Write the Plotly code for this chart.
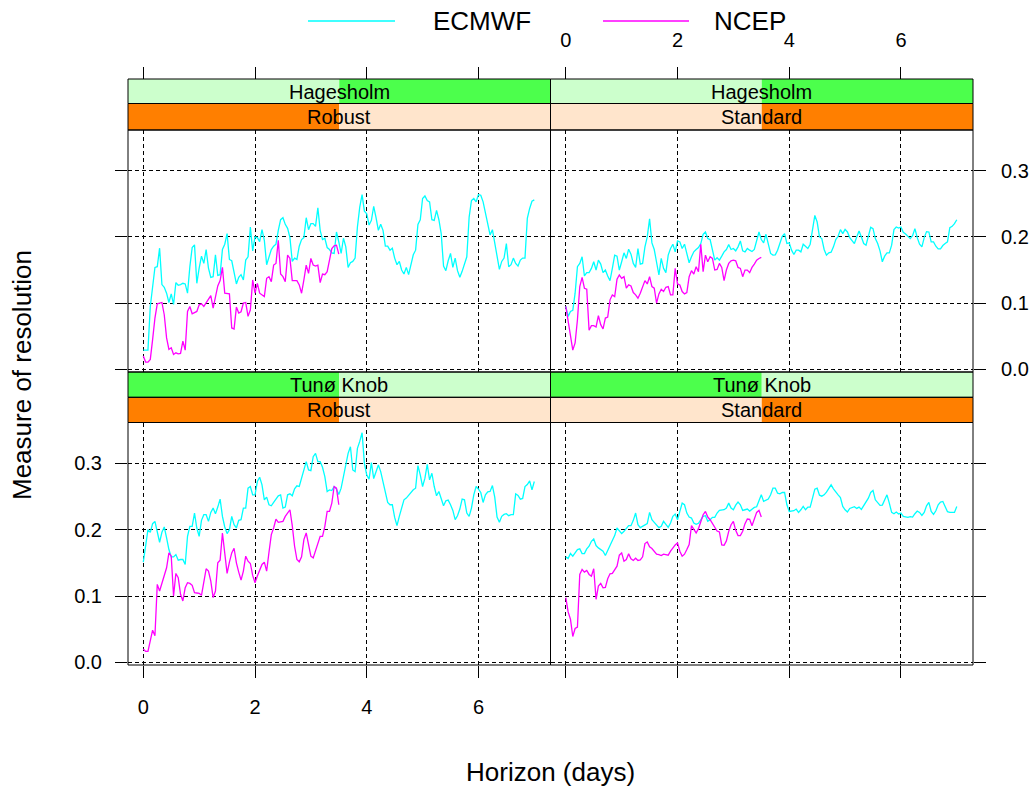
import plotly.graph_objects as go

# Lead time grid (hours) for the two forecast providers
lead_hours_ecmwf = list(range(0, 169))
lead_hours_ncep = list(range(0, 85))

# Measure of resolution, Hagesholm / Robust
hag_rob_ecmwf = [
    0.029, 0.029, 0.029, 0.095, 0.128, 0.154, 0.155, 0.183, 0.128, 0.124,
    0.115, 0.101, 0.114, 0.098, 0.131, 0.127, 0.128, 0.130, 0.129, 0.115,
    0.155, 0.184, 0.188, 0.130, 0.153, 0.171, 0.160, 0.181, 0.153, 0.139,
    0.140, 0.173, 0.142, 0.143, 0.181, 0.189, 0.205, 0.166, 0.164, 0.145,
    0.129, 0.139, 0.143, 0.135, 0.165, 0.170, 0.215, 0.179, 0.200, 0.199,
    0.193, 0.211, 0.195, 0.158, 0.170, 0.181, 0.186, 0.189, 0.210, 0.226,
    0.229, 0.219, 0.213, 0.199, 0.163, 0.168, 0.166, 0.186, 0.196, 0.199,
    0.229, 0.211, 0.220, 0.220, 0.216, 0.244, 0.210, 0.196, 0.198, 0.184,
    0.181, 0.176, 0.175, 0.2075, 0.1925, 0.175, 0.198, 0.185, 0.154, 0.161,
    0.163, 0.168, 0.215, 0.245, 0.264, 0.239, 0.235, 0.218, 0.225, 0.246,
    0.229, 0.210, 0.219, 0.210, 0.186, 0.186, 0.180, 0.183, 0.168, 0.158,
    0.163, 0.150, 0.144, 0.154, 0.143, 0.160, 0.173, 0.180, 0.219, 0.226,
    0.258, 0.262, 0.255, 0.253, 0.226, 0.225, 0.240, 0.226, 0.205, 0.156,
    0.149, 0.164, 0.175, 0.154, 0.168, 0.149, 0.139, 0.148, 0.158, 0.170,
    0.230, 0.255, 0.258, 0.253, 0.264, 0.263, 0.253, 0.236, 0.218, 0.203,
    0.211, 0.190, 0.168, 0.151, 0.163, 0.168, 0.190, 0.155, 0.158, 0.168,
    0.160, 0.156, 0.165, 0.168, 0.168, 0.228, 0.243, 0.254, 0.256,
]
hag_rob_ncep = [
    0.020, 0.011, 0.011, 0.015, 0.045, 0.0775, 0.099, 0.1005, 0.101, 0.0825,
    0.0475, 0.030, 0.0325, 0.0225, 0.025, 0.0235, 0.024, 0.0425, 0.029, 0.0875,
    0.095, 0.084, 0.086, 0.0875, 0.0975, 0.099, 0.095, 0.100, 0.105, 0.1115,
    0.0925, 0.1075, 0.126, 0.134, 0.154, 0.115, 0.115, 0.114, 0.0625, 0.061,
    0.094, 0.085, 0.087, 0.100, 0.101, 0.080, 0.090, 0.135, 0.115, 0.130,
    0.115, 0.1125, 0.110, 0.1375, 0.140, 0.1325, 0.1575, 0.160, 0.195, 0.144,
    0.140, 0.1325, 0.1725, 0.1675, 0.134, 0.134, 0.134, 0.1275, 0.115, 0.135,
    0.1575, 0.145, 0.1675, 0.1575, 0.156, 0.1575, 0.131, 0.144, 0.143, 0.1475,
    0.1625, 0.1825, 0.1865, 0.1875, 0.174,
]

# Hagesholm / Standard
hag_std_ecmwf = [
    0.095, 0.080, 0.0875, 0.089, 0.115, 0.155, 0.160, 0.170, 0.141, 0.146,
    0.146, 0.1525, 0.1625, 0.150, 0.165, 0.159, 0.146, 0.150, 0.141, 0.134,
    0.1525, 0.1725, 0.171, 0.150, 0.1625, 0.176, 0.1675, 0.1815, 0.174, 0.160,
    0.154, 0.1825, 0.159, 0.160, 0.185, 0.200, 0.2275, 0.191, 0.181, 0.160,
    0.1425, 0.1675, 0.1525, 0.146, 0.1725, 0.1825, 0.189, 0.1775, 0.194, 0.1925,
    0.1825, 0.189, 0.176, 0.161, 0.170, 0.1775, 0.181, 0.184, 0.190, 0.204,
    0.2075, 0.1975, 0.196, 0.1825, 0.165, 0.1685, 0.165, 0.171, 0.1775, 0.181,
    0.1885, 0.181, 0.1825, 0.179, 0.185, 0.194, 0.179, 0.1775, 0.1825, 0.180,
    0.178, 0.181, 0.195, 0.2075, 0.196, 0.191, 0.204, 0.190, 0.175, 0.1725,
    0.173, 0.180, 0.1925, 0.201, 0.205, 0.190, 0.191, 0.180, 0.1735, 0.180,
    0.180, 0.1775, 0.189, 0.186, 0.1825, 0.189, 0.210, 0.2325, 0.2225, 0.200,
    0.1975, 0.181, 0.1725, 0.176, 0.177, 0.185, 0.196, 0.201, 0.211, 0.205,
    0.2115, 0.2075, 0.199, 0.194, 0.190, 0.200, 0.209, 0.200, 0.190, 0.1875,
    0.200, 0.2145, 0.2125, 0.1975, 0.190, 0.179, 0.1625, 0.171, 0.176, 0.176,
    0.1875, 0.211, 0.215, 0.2135, 0.215, 0.207, 0.2045, 0.2005, 0.1975, 0.202,
    0.2125, 0.199, 0.189, 0.185, 0.199, 0.208, 0.2075, 0.1925, 0.1925, 0.186,
    0.182, 0.182, 0.187, 0.190, 0.1925, 0.214, 0.216, 0.220, 0.226,
]
hag_std_ncep = [
    0.095, 0.075, 0.050, 0.029, 0.040, 0.075, 0.125, 0.139, 0.1225, 0.121,
    0.059, 0.066, 0.066, 0.064, 0.081, 0.0675, 0.061, 0.0775, 0.079, 0.105,
    0.1125, 0.110, 0.136, 0.1425, 0.1375, 0.140, 0.1225, 0.1275, 0.126, 0.116,
    0.1125, 0.1075, 0.115, 0.125, 0.134, 0.129, 0.140, 0.125, 0.1225, 0.100,
    0.114, 0.121, 0.1175, 0.124, 0.125, 0.1125, 0.1125, 0.1525, 0.129, 0.1275,
    0.1175, 0.114, 0.116, 0.140, 0.149, 0.144, 0.155, 0.1475, 0.189, 0.1475,
    0.1725, 0.1625, 0.170, 0.1675, 0.150, 0.151, 0.160, 0.154, 0.134, 0.150,
    0.160, 0.164, 0.165, 0.164, 0.154, 0.1525, 0.140, 0.150, 0.150, 0.146,
    0.154, 0.159, 0.165, 0.1675, 0.169,
]

# Tunø Knob / Robust
tun_rob_ecmwf = [
    0.151, 0.1725, 0.200, 0.196, 0.209, 0.2125, 0.1975, 0.181, 0.196, 0.204,
    0.1875, 0.170, 0.159, 0.159, 0.1625, 0.154, 0.155, 0.155, 0.1475, 0.190,
    0.205, 0.205, 0.225, 0.2025, 0.190, 0.214, 0.2225, 0.2225, 0.2125, 0.226,
    0.2325, 0.224, 0.234, 0.246, 0.220, 0.204, 0.194, 0.200, 0.220, 0.2075,
    0.2025, 0.214, 0.215, 0.2325, 0.2325, 0.2625, 0.265, 0.2525, 0.2525, 0.2725,
    0.279, 0.2675, 0.245, 0.249, 0.2375, 0.236, 0.241, 0.246, 0.251, 0.2525,
    0.2325, 0.234, 0.2525, 0.254, 0.251, 0.2615, 0.266, 0.265, 0.279, 0.291,
    0.3025, 0.290, 0.289, 0.310, 0.315, 0.3025, 0.3025, 0.294, 0.280, 0.2575,
    0.260, 0.259, 0.265, 0.261, 0.253, 0.2625, 0.279, 0.300, 0.315, 0.325,
    0.290, 0.2875, 0.3225, 0.333, 0.346, 0.300, 0.2825, 0.276, 0.301, 0.277,
    0.2875, 0.2975, 0.2875, 0.2725, 0.2575, 0.241, 0.2375, 0.2375, 0.2185, 0.206,
    0.220, 0.231, 0.245, 0.2475, 0.252, 0.2565, 0.260, 0.2625, 0.2965, 0.2825,
    0.265, 0.2775, 0.2985, 0.275, 0.285, 0.265, 0.251, 0.2575, 0.246, 0.236,
    0.2435, 0.2445, 0.2375, 0.229, 0.215, 0.221, 0.231, 0.246, 0.245, 0.225,
    0.220, 0.2325, 0.2525, 0.265, 0.261, 0.256, 0.241, 0.2525, 0.257, 0.2575,
    0.2665, 0.249, 0.219, 0.211, 0.220, 0.223, 0.224, 0.221, 0.2225, 0.2225,
    0.254, 0.2515, 0.246, 0.247, 0.265, 0.268, 0.2735, 0.260, 0.2725,
]
tun_rob_ncep = [
    0.020, 0.0165, 0.0165, 0.035, 0.0485, 0.040, 0.1175, 0.1075, 0.119, 0.130,
    0.1425, 0.165, 0.160, 0.100, 0.134, 0.1275, 0.1025, 0.0925, 0.1125, 0.120,
    0.119, 0.116, 0.105, 0.1045, 0.104, 0.101, 0.120, 0.141, 0.1375, 0.1225,
    0.0975, 0.1075, 0.150, 0.154, 0.195, 0.160, 0.134, 0.151, 0.165, 0.172,
    0.150, 0.136, 0.124, 0.1375, 0.160, 0.1525, 0.149, 0.131, 0.120, 0.130,
    0.1375, 0.1475, 0.151, 0.1375, 0.166, 0.1925, 0.2025, 0.216, 0.211, 0.212,
    0.2125, 0.220, 0.225, 0.230, 0.206, 0.175, 0.155, 0.1515, 0.159, 0.185,
    0.195, 0.1775, 0.160, 0.1575, 0.169, 0.1775, 0.190, 0.190, 0.205, 0.2275,
    0.2275, 0.240, 0.265, 0.2625, 0.2375,
]

# Tunø Knob / Standard
tun_std_ecmwf = [
    0.159, 0.1565, 0.164, 0.160, 0.165, 0.170, 0.171, 0.164, 0.164, 0.171,
    0.175, 0.1825, 0.186, 0.176, 0.1725, 0.170, 0.1675, 0.161, 0.169, 0.177,
    0.1825, 0.191, 0.2025, 0.199, 0.194, 0.1975, 0.2025, 0.206, 0.206, 0.214,
    0.225, 0.2075, 0.203, 0.205, 0.206, 0.209, 0.226, 0.215, 0.211, 0.207,
    0.203, 0.205, 0.2125, 0.208, 0.2035, 0.210, 0.220, 0.2235, 0.215, 0.2275,
    0.240, 0.2375, 0.225, 0.219, 0.2175, 0.210, 0.208, 0.2095, 0.215, 0.220,
    0.221, 0.2125, 0.215, 0.2185, 0.2185, 0.225, 0.229, 0.229, 0.230, 0.2325,
    0.240, 0.2325, 0.230, 0.237, 0.2415, 0.2375, 0.229, 0.230, 0.231, 0.228,
    0.2315, 0.2335, 0.2345, 0.2425, 0.2525, 0.2425, 0.2445, 0.246, 0.2525, 0.2625,
    0.2625, 0.255, 0.254, 0.256, 0.256, 0.2375, 0.2275, 0.2275, 0.2285, 0.231,
    0.226, 0.230, 0.235, 0.230, 0.234, 0.234, 0.2475, 0.261, 0.2625, 0.252,
    0.2505, 0.2525, 0.2565, 0.262, 0.2675, 0.2615, 0.256, 0.2525, 0.2485, 0.235,
    0.230, 0.2265, 0.232, 0.2335, 0.2345, 0.232, 0.234, 0.2305, 0.236, 0.2415,
    0.2475, 0.256, 0.259, 0.245, 0.2405, 0.2365, 0.237, 0.246, 0.2525, 0.240,
    0.226, 0.224, 0.2265, 0.2235, 0.225, 0.220, 0.2195, 0.2185, 0.2195, 0.219,
    0.224, 0.228, 0.226, 0.2215, 0.226, 0.236, 0.241, 0.2275, 0.223, 0.2285,
    0.2375, 0.2415, 0.2425, 0.235, 0.227, 0.226, 0.226, 0.226, 0.235,
]
tun_std_ncep = [
    0.0975, 0.076, 0.065, 0.039, 0.051, 0.053, 0.1325, 0.140, 0.136, 0.1385,
    0.1325, 0.130, 0.141, 0.095, 0.115, 0.119, 0.1125, 0.113, 0.126, 0.1335,
    0.134, 0.140, 0.145, 0.1615, 0.165, 0.1525, 0.155, 0.1635, 0.156, 0.1535,
    0.157, 0.1535, 0.1545, 0.159, 0.179, 0.1815, 0.174, 0.1715, 0.1665, 0.163,
    0.1625, 0.161, 0.163, 0.162, 0.1615, 0.1675, 0.1725, 0.177, 0.180, 0.1675,
    0.160, 0.163, 0.170, 0.1775, 0.206, 0.200, 0.195, 0.2015, 0.2125, 0.2225,
    0.2275, 0.219, 0.215, 0.2095, 0.2045, 0.198, 0.1965, 0.177, 0.1765, 0.183,
    0.1975, 0.2075, 0.2125, 0.199, 0.191, 0.191, 0.1975, 0.209, 0.216, 0.2155,
    0.206, 0.216, 0.226, 0.229, 0.219,
]

# factor levels, in level order
site_levels = ["Tunø Knob", "Hagesholm"]
method_levels = ["Robust", "Standard"]
x_ticks = [0, 2, 4, 6]
y_ticks = [0.0, 0.1, 0.2, 0.3]

W, H = 1034, 790
FONT = "Liberation Sans, Arial, Helvetica, sans-serif"
CYAN = "#00FFFF"
MAGENTA = "#FF00FF"
LIGHT_GREEN = "#CCFFCC"
GREEN = "#4CFF4C"
ORANGE = "#FF7F00"
PEACH = "#FFE5CC"


def px(x):
    return x / W


def py(y):
    return 1 - y / H


days_ecmwf = [h / 24 for h in lead_hours_ecmwf]
days_ncep = [h / 24 for h in lead_hours_ncep]

# panel geometry in pixels
col_edges = [(128, 550.5), (550.5, 973)]
row_edges = [
    {"strip_top": 79, "strip_mid": 103.5, "top": 130, "bottom": 372},
    {"strip_top": 372, "strip_mid": 397.3, "top": 422.5, "bottom": 665},
]

panels = [
    # (row, col, site level, method level, ecmwf, ncep)
    (0, 0, 1, 0, hag_rob_ecmwf, hag_rob_ncep),
    (0, 1, 1, 1, hag_std_ecmwf, hag_std_ncep),
    (1, 0, 0, 0, tun_rob_ecmwf, tun_rob_ncep),
    (1, 1, 0, 1, tun_std_ecmwf, tun_std_ncep),
]

x_range = [-0.274, 7.29]
y_range = [-0.004, 0.3615]

fig = go.Figure()
shapes = []
annotations = []
layout_axes = {}

for i, (r, c, si, mi, ec, nc) in enumerate(panels):
    n = "" if i == 0 else str(i + 1)
    xa, ya = "x" + n, "y" + n
    L, R = col_edges[c]
    g = row_edges[r]

    fig.add_trace(go.Scatter(x=days_ecmwf, y=ec, mode="lines", xaxis=xa, yaxis=ya,
                             line=dict(color=CYAN, width=1.3), name="ECMWF",
                             showlegend=False, hoverinfo="skip"))
    fig.add_trace(go.Scatter(x=days_ncep, y=nc, mode="lines", xaxis=xa, yaxis=ya,
                             line=dict(color=MAGENTA, width=1.3), name="NCEP",
                             showlegend=False, hoverinfo="skip"))

    common = dict(showgrid=True, gridcolor="black", gridwidth=1, griddash="4px,3px",
                  zeroline=False, showline=False, ticks="outside", ticklen=12,
                  tickwidth=1, tickcolor="black", automargin=False,
                  tickfont=dict(family=FONT, size=20, color="black"))

    xcfg = dict(common, domain=[px(L), px(R)], range=x_range, tickmode="array",
                tickvals=x_ticks, ticktext=[str(v) for v in x_ticks])
    if r == 0:
        xcfg.update(anchor="free", position=py(g["strip_top"]), side="top",
                    showticklabels=(c == 1), ticklabelstandoff=12)
    else:
        xcfg.update(anchor=ya, side="bottom", showticklabels=(c == 0),
                    ticklabelstandoff=12)

    ycfg = dict(common, domain=[py(g["bottom"]), py(g["top"])], range=y_range,
                tickmode="array", tickvals=y_ticks,
                ticktext=["%.1f" % v for v in y_ticks], anchor=xa)
    if c == 0:
        ycfg.update(side="left", showticklabels=(r == 1), ticklabelstandoff=9)
    else:
        ycfg.update(side="right", showticklabels=(r == 0), ticklabelstandoff=11)

    layout_axes["xaxis" + n] = xcfg
    layout_axes["yaxis" + n] = ycfg

    mid = (L + R) / 2
    # site strip (outer) and method strip (inner); the highlighted half marks the level
    strip_rows = [
        (g["strip_top"], g["strip_mid"], site_levels[si], si, LIGHT_GREEN, GREEN),
        (g["strip_mid"], g["top"], method_levels[mi], mi, PEACH, ORANGE),
    ]
    for (t, b, label, lvl, bg, hi) in strip_rows:
        left_col = hi if lvl == 0 else bg
        right_col = bg if lvl == 0 else hi
        shapes.append(dict(type="rect", xref="paper", yref="paper",
                           x0=px(L), x1=px(mid), y0=py(b), y1=py(t),
                           fillcolor=left_col, line=dict(width=0), layer="below"))
        shapes.append(dict(type="rect", xref="paper", yref="paper",
                           x0=px(mid), x1=px(R), y0=py(b), y1=py(t),
                           fillcolor=right_col, line=dict(width=0), layer="below"))
        shapes.append(dict(type="rect", xref="paper", yref="paper",
                           x0=px(L), x1=px(R), y0=py(b), y1=py(t),
                           line=dict(color="black", width=1)))
        annotations.append(dict(text=label, xref="paper", yref="paper",
                                x=px(mid), y=py((t + b) / 2 + 0.5), showarrow=False,
                                xanchor="center", yanchor="middle",
                                font=dict(family=FONT, size=20, color="black")))
    # panel border
    shapes.append(dict(type="rect", xref="paper", yref="paper",
                       x0=px(L), x1=px(R), y0=py(g["bottom"]), y1=py(g["top"]),
                       line=dict(color="black", width=1)))

# key above the panels
key_y = 21
for (x0, x1, tx, label, col) in [(308, 395, 431, "ECMWF", CYAN),
                                  (603, 689, 712, "NCEP", MAGENTA)]:
    shapes.append(dict(type="line", xref="paper", yref="paper",
                       x0=px(x0), x1=px(x1), y0=py(key_y), y1=py(key_y),
                       line=dict(color=col, width=1.3)))
    annotations.append(dict(text=label, xref="paper", yref="paper",
                            x=px(tx), y=py(key_y), showarrow=False,
                            xanchor="left", yanchor="middle",
                            font=dict(family=FONT, size=26, color="black")))

# axis titles
annotations.append(dict(text="Horizon (days)", xref="paper", yref="paper",
                        x=px(550), y=py(772), showarrow=False,
                        xanchor="center", yanchor="middle",
                        font=dict(family=FONT, size=26, color="black")))
annotations.append(dict(text="Measure of resolution", xref="paper", yref="paper",
                        x=px(22), y=py(375), showarrow=False, textangle=-90,
                        xanchor="center", yanchor="middle",
                        font=dict(family=FONT, size=26, color="black")))

fig.update_layout(
    width=W, height=H,
    margin=dict(l=0, r=0, t=0, b=0, pad=0),
    paper_bgcolor="white", plot_bgcolor="white",
    shapes=shapes, annotations=annotations,
    showlegend=False,
    font=dict(family=FONT, color="black"),
    **layout_axes,
)

fig.write_html("out.html")
